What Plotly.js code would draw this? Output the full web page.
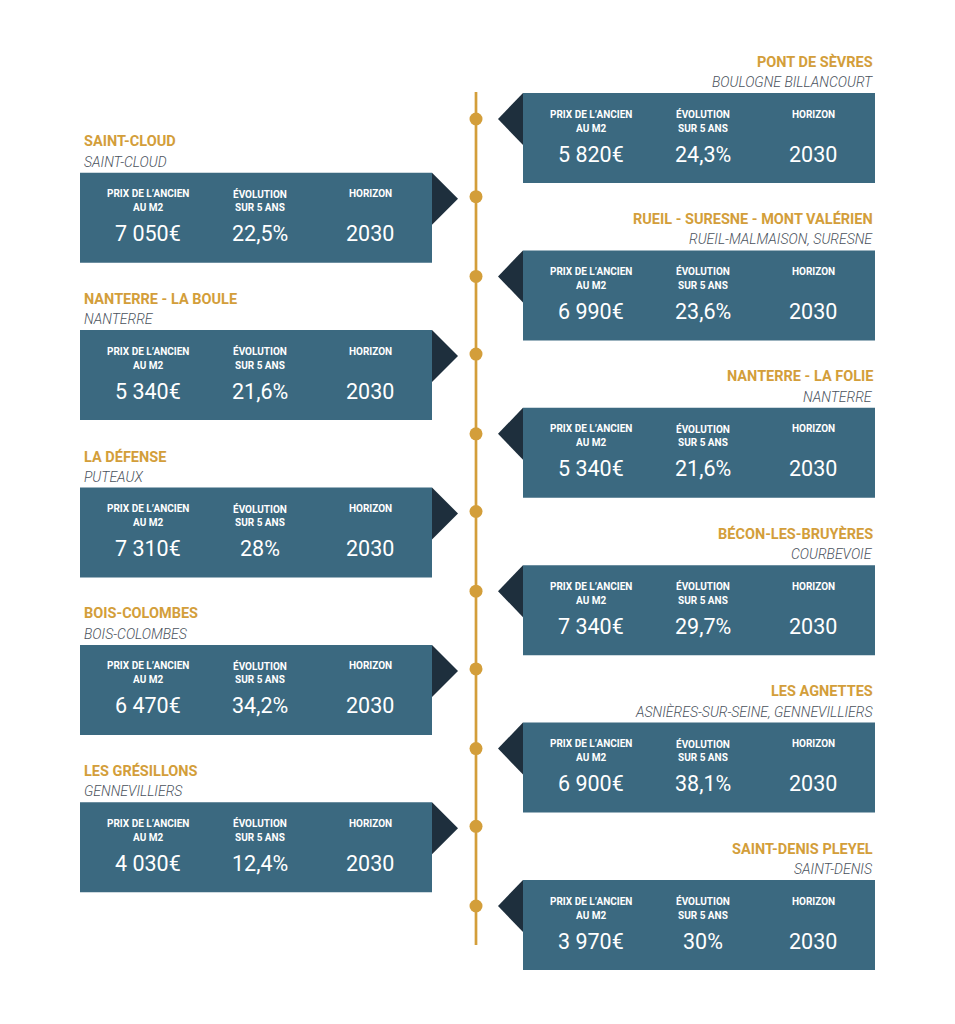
<!DOCTYPE html>
<html>
<head>
<meta charset="utf-8">
<script src="https://cdn.plot.ly/plotly-3.0.1.min.js"></script>
<style>html,body{margin:0;padding:0;background:#fff;}#chart{width:955px;height:1024px;}</style>
</head>
<body>
<div id="chart"></div>
<script>
// ---- Data ----
const names = ["PONT DE SÈVRES","SAINT-CLOUD","RUEIL - SURESNE - MONT VALÉRIEN","NANTERRE - LA BOULE","NANTERRE - LA FOLIE","LA DÉFENSE","BÉCON-LES-BRUYÈRES","BOIS-COLOMBES","LES AGNETTES","LES GRÉSILLONS","SAINT-DENIS PLEYEL"];
const communes = ["BOULOGNE BILLANCOURT","SAINT-CLOUD","RUEIL-MALMAISON, SURESNE","NANTERRE","NANTERRE","PUTEAUX","COURBEVOIE","BOIS-COLOMBES","ASNIÈRES-SUR-SEINE, GENNEVILLIERS","GENNEVILLIERS","SAINT-DENIS"];
const prices = [5820,7050,6990,5340,5340,7310,7340,6470,6900,4030,3970];
const evolutions = [24.3,22.5,23.6,21.6,21.6,28,29.7,34.2,38.1,12.4,30];
const horizons = [2030,2030,2030,2030,2030,2030,2030,2030,2030,2030,2030];
const sides = ["right","left","right","left","right","left","right","left","right","left","right"];
const colLabels = [["PRIX DE L’ANCIEN","AU M2"],["ÉVOLUTION","SUR 5 ANS"],["HORIZON"]];

// ---- Style / layout constants ----
const GOLD = "#d39e3a", BOX = "#3b6980", DARK = "#1e2f3d", SUB = "#4a525c";
const FONT = "Roboto, 'Noto Sans', sans-serif";
const lineX = 476;
const boxW = 352, boxH = 90;
const leftX0 = 80, rightX0 = 523;
const arrowW = 25, arrowH = 52;

function fmtPrice(v){ return v.toString().replace(/\B(?=(\d{3})+(?!\d))/g, " ") + "€"; }
function fmtEvo(v){ return v.toString().replace(".", ",") + "%"; }

const traces = [];
const annotations = [];

// timeline line
traces.push({x:[lineX,lineX], y:[92,945], mode:"lines", line:{color:GOLD,width:2.7}, hoverinfo:"skip", showlegend:false});

const dotX = [], dotY = [];
names.forEach((nm, i) => {
  const right = sides[i] === "right";
  const top = 93 + i*78.7 + (right ? 0 : 1);
  const x0 = right ? rightX0 : leftX0;
  const x1 = x0 + boxW;
  // box
  traces.push({x:[x0,x1,x1,x0,x0], y:[top,top,top+boxH,top+boxH,top], mode:"lines", fill:"toself",
    fillcolor:BOX, line:{width:0,color:BOX}, hoverinfo:"skip", showlegend:false});
  // arrow
  const tipY = top + arrowH/2;
  const ax = right ? [x0, x0-arrowW, x0, x0] : [x1, x1+arrowW+1, x1, x1];
  traces.push({x:ax, y:[top, tipY, top+arrowH, top], mode:"lines", fill:"toself",
    fillcolor:DARK, line:{width:0,color:DARK}, hoverinfo:"skip", showlegend:false});
  dotX.push(lineX); dotY.push(right ? tipY : tipY - 2);
  // title & commune
  const tx = right ? x1 : x0 + 2;
  const xa = right ? "right" : "left";
  annotations.push({x:tx, y:top-31, text:"<b>"+nm+"</b>", showarrow:false, xanchor:xa, yanchor:"middle",
    font:{family:FONT, size:14.5, color:GOLD}});
  annotations.push({x:tx, y:top-11, text:"<i>"+communes[i]+"</i>", showarrow:false, xanchor:xa, yanchor:"middle",
    font:{family:FONT, size:14, color:SUB, weight:300}});
  // columns
  const offs = [68, 180, 290];
  const vals = [fmtPrice(prices[i]), fmtEvo(evolutions[i]), String(horizons[i])];
  offs.forEach((o, k) => {
    colLabels[k].forEach((ln, j) => {
      annotations.push({x:x0+o, y:top+21+j*14, text:"<b>"+ln+"</b>", showarrow:false, xanchor:"center", yanchor:"middle",
        font:{family:FONT, size:10, color:"#ffffff"}});
    });
    annotations.push({x:x0+o, y:top+61, text:vals[k], showarrow:false, xanchor:"center", yanchor:"middle",
      font:{family:FONT, size:21.5, color:"#ffffff"}});
  });
});

traces.push({x:dotX, y:dotY, mode:"markers", marker:{color:GOLD, size:13, line:{width:0}}, hoverinfo:"skip", showlegend:false});

const layout = {
  width:955, height:1024,
  margin:{l:0,r:0,t:0,b:0},
  paper_bgcolor:"#ffffff", plot_bgcolor:"#ffffff",
  xaxis:{range:[0,955], visible:false, fixedrange:true},
  yaxis:{range:[1024,0], visible:false, fixedrange:true},
  annotations, showlegend:false
};
Plotly.newPlot("chart", traces, layout, {displayModeBar:false, staticPlot:true});
</script>
</body>
</html>
